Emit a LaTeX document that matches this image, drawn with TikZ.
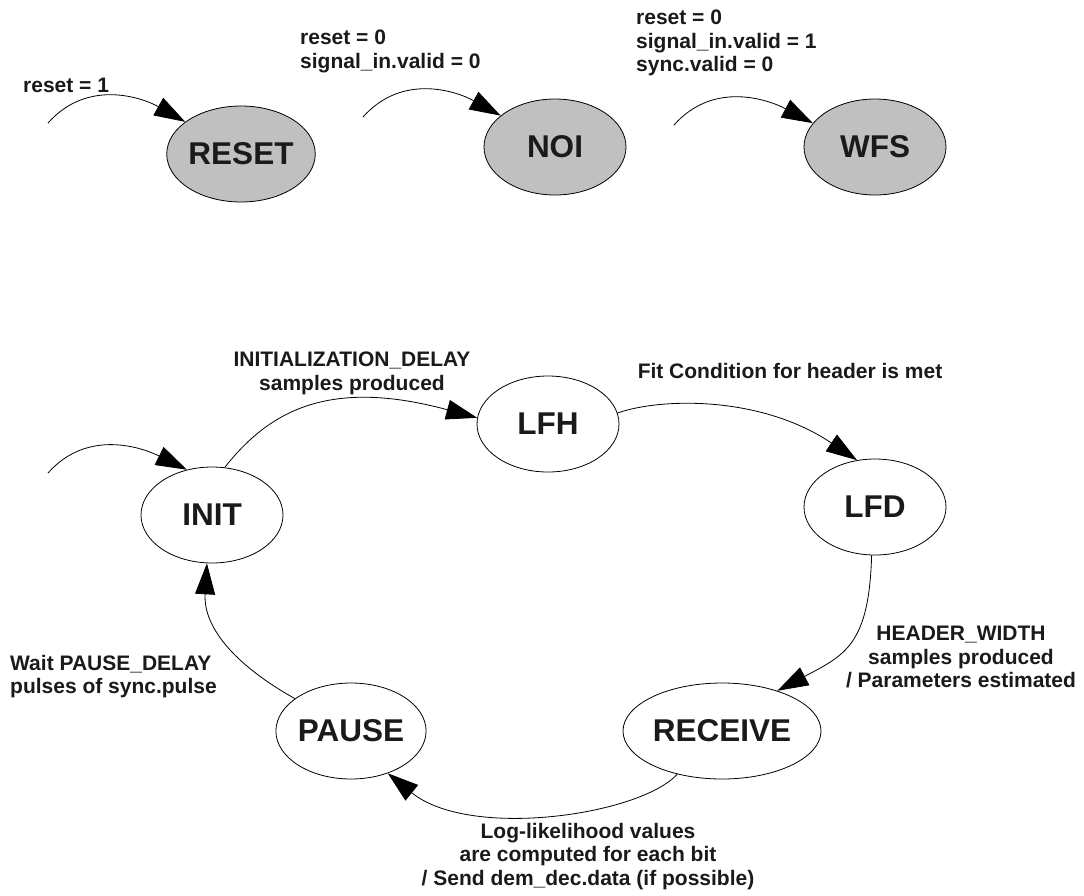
\documentclass[tikz,border=0pt]{standalone}
\usepackage{fontspec}
\setmainfont{Liberation Sans}
\usetikzlibrary{arrows.meta,shapes.geometric}
\definecolor{txt}{RGB}{26,26,26}
\definecolor{stfill}{RGB}{192,192,192}
\begin{document}
\begin{tikzpicture}[x=1pt,y=-1pt,
  state/.style={ellipse, draw=black, line width=0.8pt, minimum width=142pt, minimum height=96pt, inner sep=0pt, text=txt, font=\fontsize{31.5}{36}\selectfont\bfseries},
  sstate/.style={state, fill=stfill},
  lab/.style={text=txt, font=\fontsize{21}{23.5}\selectfont\bfseries, inner sep=0pt},
  tr/.style={draw=black, line width=0.8pt, -{Triangle[length=31pt,width=20pt]}},
]
\useasboundingbox (0,0) rectangle (1084,895);

% states
\node[sstate] (RESET) at (241,154) {RESET};
\node[sstate] (NOI) at (555,147) {NOI};
\node[sstate] (WFS) at (875,147) {WFS};
\node[state] (INIT) at (212,515) {INIT};
\node[state] (LFH) at (548,424) {LFH};
\node[state] (LFD) at (875,507) {LFD};
\node[state] (PAUSE) at (351,731) {PAUSE};
\node[state, minimum width=198pt] (RECEIVE) at (722,731) {RECEIVE};

% initial arrows
\coordinate (r0) at (48,123);
\coordinate (n0) at (363,117);
\coordinate (w0) at (674,125);
\coordinate (i0) at (48,473);
\draw[tr] (r0) .. controls (88,78) and (143,98) .. (RESET.150);
\draw[tr] (n0) .. controls (403,72) and (458,92) .. (NOI.150);
\draw[tr] (w0) .. controls (714,80) and (769,100) .. (WFS.159);
\draw[tr] (i0) .. controls (88,428) and (143,448) .. (INIT.119);

% transitions
\draw[tr] (INIT.75) .. controls (270,410) and (330,378) .. (LFH.175);
\draw[tr] (LFH.9) .. controls (660,398) and (760,395) .. (LFD.111);
\draw[tr] (LFD.266) .. controls (869,645) and (845,655) .. (RECEIVE.36);
\draw[tr] (RECEIVE.224) .. controls (640,815) and (470,840) .. (PAUSE.311);
\draw[tr] (PAUSE.150) .. controls (240,668) and (203,630) .. (INIT.264);

% labels
\node[lab, anchor=base west] (l1) at (23,92) {reset = 1};
\node[lab, anchor=north west, align=left] (l2) at (300,30) {reset = 0\\signal\_in.valid = 0};
\node[lab, anchor=north west, align=left] (l3) at (636,10) {reset = 0\\signal\_in.valid = 1\\sync.valid = 0};
\node[lab, anchor=north, align=center] (l4) at (352,352) {INITIALIZATION\_DELAY\\samples produced};
\node[lab, anchor=base] (l5) at (790,378) {Fit Condition for header is met};
\node[lab, anchor=north, align=center] (l6) at (961,626) {HEADER\_WIDTH\\samples produced\\/ Parameters estimated};
\node[lab, anchor=north west, align=left] (l7) at (10,655) {Wait PAUSE\_DELAY\\pulses of sync.pulse};
\node[lab, anchor=north, align=center] (l8) at (588,823) {Log-likelihood values\\are computed for each bit\\/ Send dem\_dec.data (if possible)};
\end{tikzpicture}
\end{document}
